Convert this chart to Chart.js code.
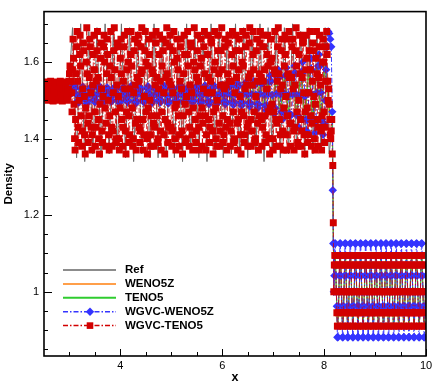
<!DOCTYPE html>
<html>
<head>
<meta charset="utf-8">
<script src="https://cdn.jsdelivr.net/npm/chart.js@4.4.1/dist/chart.umd.min.js"></script>
<style>
  html, body { margin: 0; padding: 0; background: #fff; }
  #wrap { width: 436px; height: 388px; }
</style>
</head>
<body>
<div id="wrap"><canvas id="grafico" width="436" height="388"></canvas></div>
<script>
// ---------- Dados ----------
const X_MIN = 2.5, X_MAX = 10;
const Y_MIN = 0.832, Y_MAX = 1.732;
const xTicks = [4, 6, 8, 10];
const yTicks = [1, 1.2, 1.4, 1.6];

// Ref: extremos da onda, passo 0.08 a partir de x=2.5
const refStub = [1.515,1.52,1.512,1.518,1.522,1.514,1.52];
const refWave = [
  1.69,1.35, 1.70,1.34, 1.68,1.36, 1.69,1.35, 1.70,1.36, 1.68,1.37, 1.70,1.35, 1.69,1.34, 1.68,1.36, 1.69,1.35,
  1.70,1.35, 1.68,1.36, 1.69,1.35, 1.68,1.34, 1.70,1.37, 1.69,1.35, 1.68,1.34, 1.70,1.36, 1.69,1.35, 1.68,1.36,
  1.70,1.36, 1.69,1.35, 1.68,1.36, 1.70,1.34, 1.69,1.36, 1.68,1.35, 1.69,1.36, 1.70,1.37, 1.68,1.35, 1.69,1.36,
  1.68,1.37, 1.69,1.36
];
// Ref depois do choque, passo 0.025 a partir de x=8.165
const refPre = [1.45,
  1.0,1.1,1.0,0.9, 1.0,1.1,1.0,0.9, 1.0,1.1,1.0,0.9, 1.0,1.1,1.0,0.9, 1.0,1.1,1.0,0.9, 1.0,1.1,1.0,0.9,
  1.0,1.1,1.0,0.9, 1.0,1.1,1.0,0.9, 1.0,1.1,1.0,0.9, 1.0,1.1,1.0,0.9, 1.0,1.1,1.0,0.9, 1.0,1.1,1.0,0.9,
  1.0,1.1,1.0,0.9, 1.0,1.1,1.0,0.9, 1.0,1.1,1.0,0.9, 1.0,1.1,1.0,0.9, 1.0,1.1,1.0,0.9, 1.0,1.1,1.0,0.9,
  1.0];

// WENO5Z / TENO5: passo 0.08 antes do choque, 0.02 depois (x=8.16)
const wenoLeft = [1.515,1.514,1.516,1.515,1.513,1.517,1.52,
  1.53,1.50, 1.528,1.502, 1.531,1.499, 1.529,1.501, 1.53,1.50, 1.527,1.503, 1.532,1.498, 1.529,1.501,
  1.53,1.50, 1.528,1.502, 1.531,1.499, 1.53,1.50, 1.529,1.501, 1.531,1.499, 1.53,1.50, 1.528,1.502,
  1.532,1.498, 1.53,1.50, 1.529,1.501, 1.531,1.499, 1.53,1.50, 1.533,1.497,
  1.54,1.49, 1.545,1.485, 1.55,1.48, 1.555,1.475, 1.56,1.47, 1.565,1.465, 1.57,1.46, 1.575,1.455, 1.58,1.45, 1.585,1.46];
const wenoPre = [1.45,1.12,
  1.06,1.09,1.0,0.91,0.94, 1.06,1.09,1.0,0.91,0.94, 1.06,1.09,1.0,0.91,0.94, 1.06,1.09,1.0,0.91,0.94,
  1.06,1.09,1.0,0.91,0.94, 1.06,1.09,1.0,0.91,0.94, 1.06,1.09,1.0,0.91,0.94, 1.06,1.09,1.0,0.91,0.94,
  1.06,1.09,1.0,0.91,0.94, 1.06,1.09,1.0,0.91,0.94, 1.06,1.09,1.0,0.91,0.94, 1.06,1.09,1.0,0.91,0.94,
  1.06,1.09,1.0,0.91,0.94, 1.06,1.09,1.0,0.91,0.94, 1.06,1.09,1.0,0.91,0.94, 1.06,1.09,1.0,0.91,0.94,
  1.06,1.09,1.0,0.91,0.94, 1.06,1.09,1.0,0.91,0.94, 1.06];
const tenoLeft = [1.516,1.515,1.514,1.517,1.515,1.513,1.522,
  1.532,1.498, 1.529,1.501, 1.53,1.50, 1.531,1.499, 1.528,1.502, 1.53,1.50, 1.529,1.501, 1.532,1.498,
  1.53,1.50, 1.527,1.503, 1.531,1.499, 1.53,1.50, 1.528,1.502, 1.532,1.498, 1.529,1.501, 1.53,1.50,
  1.531,1.499, 1.53,1.50, 1.528,1.502, 1.532,1.498, 1.53,1.50, 1.534,1.496,
  1.542,1.488, 1.548,1.482, 1.552,1.478, 1.558,1.472, 1.562,1.468, 1.568,1.462, 1.572,1.458, 1.578,1.452, 1.59,1.46, 1.6,1.48];
const tenoPre = [1.45,1.12,
  1.06,1.095,1.0,0.905,0.94, 1.06,1.095,1.0,0.905,0.94, 1.06,1.095,1.0,0.905,0.94, 1.06,1.095,1.0,0.905,0.94,
  1.06,1.095,1.0,0.905,0.94, 1.06,1.095,1.0,0.905,0.94, 1.06,1.095,1.0,0.905,0.94, 1.06,1.095,1.0,0.905,0.94,
  1.06,1.095,1.0,0.905,0.94, 1.06,1.095,1.0,0.905,0.94, 1.06,1.095,1.0,0.905,0.94, 1.06,1.095,1.0,0.905,0.94,
  1.06,1.095,1.0,0.905,0.94, 1.06,1.095,1.0,0.905,0.94, 1.06,1.095,1.0,0.905,0.94, 1.06,1.095,1.0,0.905,0.94,
  1.06,1.095,1.0,0.905,0.94, 1.06,1.095,1.0,0.905,0.94, 1.06];

// WGVC-WENO5Z: passo 0.02 a partir de x=2.5, depois 0.01 a partir de x=8.16
const wgvcWenoStub = [1.515,1.512,1.518,1.514,1.510,1.516,1.519,1.513,1.511,1.517,1.52,1.514,1.51,1.515,
  1.519,1.513,1.511,1.516,1.52,1.515,1.511,1.514,1.519,1.516,1.512,1.515,1.525,1.535];
const wgvcWenoWave = [
  1.52,1.535,1.54,1.532,1.515,1.50,1.494,1.50,
  1.514,1.53,1.536,1.53,1.516,1.50,1.492,1.498,
  1.513,1.528,1.535,1.53,1.517,1.502,1.495,1.50,
  1.515,1.532,1.538,1.531,1.514,1.498,1.493,1.499,
  1.516,1.53,1.534,1.528,1.515,1.501,1.496,1.50,
  1.514,1.529,1.537,1.532,1.516,1.50,1.493,1.498,
  1.512,1.528,1.535,1.53,1.518,1.503,1.495,1.499,
  1.515,1.531,1.539,1.533,1.515,1.498,1.492,1.498,
  1.516,1.53,1.535,1.529,1.514,1.50,1.495,1.501,
  1.515,1.532,1.537,1.531,1.516,1.499,1.493,1.499,
  1.513,1.529,1.536,1.532,1.517,1.501,1.494,1.50,
  1.516,1.531,1.538,1.53,1.514,1.498,1.492,1.497,
  1.514,1.53,1.535,1.531,1.516,1.50,1.495,1.50,
  1.515,1.533,1.54,1.532,1.515,1.497,1.491,1.498,
  1.516,1.53,1.536,1.53,1.515,1.50,1.494,1.50,
  1.514,1.531,1.538,1.533,1.517,1.499,1.492,1.498,
  1.515,1.532,1.539,1.531,1.514,1.497,1.49,1.497,
  1.516,1.534,1.541,1.534,1.516,1.498,1.491,1.498,
  1.515,1.533,1.54,1.533,1.515,1.497,1.49,1.496,
  1.516,1.535,1.543,1.536,1.516,1.496,1.488,1.495,
  1.515,1.536,1.545,1.537,1.515,1.494,1.486,1.494,
  1.516,1.538,1.547,1.538,1.515,1.493,1.484,1.493,
  1.516,1.54,1.55,1.54,1.515,1.49,1.48,1.49,
  1.517,1.545,1.556,1.544,1.514,1.486,1.474,1.486,
  1.516,1.55,1.565,1.55,1.514,1.48,1.465,1.48,
  1.517,1.56,1.58,1.56,1.515,1.47,1.45,1.47,
  1.518,1.565,1.585,1.565,1.514,1.465,1.44,1.462,
  1.515,1.57,1.59,1.57,1.515,1.46,1.43,1.455,
  1.515,1.575,1.6,1.575,1.51,1.45,1.42,1.45,
  1.52,1.58,1.61,1.58,1.515,1.45,1.415,1.445,
  1.52,1.59,1.62,1.59,1.52,1.45,1.41,1.44,
  1.50,1.58,1.64,1.68,1.675,1.66,1.64
];
const wgvcWenoPre = [1.47,1.265,1.126,
  1.0,1.042,1.126,1.126,1.042,1.0,0.962,0.881,0.881,0.962,
  1.0,1.042,1.126,1.126,1.042,1.0,0.962,0.881,0.881,0.962,
  1.0,1.042,1.126,1.126,1.042,1.0,0.962,0.881,0.881,0.962,
  1.0,1.042,1.126,1.126,1.042,1.0,0.962,0.881,0.881,0.962,
  1.0,1.042,1.126,1.126,1.042,1.0,0.962,0.881,0.881,0.962,
  1.0,1.042,1.126,1.126,1.042,1.0,0.962,0.881,0.881,0.962,
  1.0,1.042,1.126,1.126,1.042,1.0,0.962,0.881,0.881,0.962,
  1.0,1.042,1.126,1.126,1.042,1.0,0.962,0.881,0.881,0.962,
  1.0,1.042,1.126,1.126,1.042,1.0,0.962,0.881,0.881,0.962,
  1.0,1.042,1.126,1.126,1.042,1.0,0.962,0.881,0.881,0.962,
  1.0,1.042,1.126,1.126,1.042,1.0,0.962,0.881,0.881,0.962,
  1.0,1.042,1.126,1.126,1.042,1.0,0.962,0.881,0.881,0.962,
  1.0,1.042,1.126,1.126,1.042,1.0,0.962,0.881,0.881,0.962,
  1.0,1.042,1.126,1.126,1.042,1.0,0.962,0.881,0.881,0.962,
  1.0,1.042,1.126,1.126,1.042,1.0,0.962,0.881,0.881,0.962,
  1.0,1.042,1.126,1.126,1.042,1.0,0.962,0.881,0.881,0.962,
  1.0,1.042,1.126,1.126,1.042,1.0,0.962,0.881,0.881,0.962,
  1.0,1.042,1.126,1.126,1.042,1.0,0.962,0.881,0.881,0.962,
  1.0,1.042];

// WGVC-TENO5: passo 0.01 a partir de x=2.5, depois a partir de x=8.16
const wgvcTenoStub = [
  1.52,1.53,1.54,1.548,1.54,1.53,1.515,1.505,1.50,1.505,1.515,1.53,1.54,1.55,
  1.54,1.525,1.51,1.50,1.498,1.51,1.525,1.54,1.548,1.54,1.53,1.515,1.505,1.50,
  1.505,1.52,1.535,1.545,1.55,1.535,1.52,1.505,1.498,1.505,1.515,1.53,1.54,1.548,
  1.54,1.53,1.515,1.505,1.50,1.51,1.53,1.55,1.57,1.59,1.58,1.55,1.52];
const wgvcTenoWave = [
  1.47,1.58,1.66,1.61,1.49,1.40,1.37,1.45,1.57,1.64,1.68,1.55,1.43,1.39,1.50,1.62,
  1.67,1.59,1.46,1.38,1.42,1.53,1.65,1.63,1.51,1.41,1.36,1.48,1.60,1.69,1.57,1.44,
  1.39,1.46,1.56,1.66,1.64,1.52,1.43,1.37,1.41,1.54,1.62,1.67,1.58,1.47,1.38,1.43,
  1.55,1.63,1.68,1.56,1.45,1.40,1.36,1.49,1.61,1.65,1.53,1.42,1.39,1.51,1.64,1.67,
  1.60,1.48,1.38,1.44,1.57,1.66,1.62,1.50,1.41,1.37,1.46,1.59,1.68,1.56,1.43,1.38,
  1.42,1.52,1.63,1.69,1.58,1.47,1.39,1.40,1.54,1.65,1.64,1.51,1.40,1.37,1.48,1.61,
  1.66,1.57,1.45,1.38,1.43,1.55,1.64,1.67,1.53,1.42,1.36,1.47,1.58,1.68,1.60,1.46,
  1.39,1.41,1.53,1.62,1.68,1.59,1.48,1.38,1.40,1.52,1.63,1.66,1.54,1.44,1.37,1.45,
  1.56,1.65,1.67,1.55,1.43,1.39,1.42,1.57,1.64,1.69,1.58,1.45,1.37,1.41,1.51,1.63,
  1.68,1.60,1.47,1.40,1.36,1.48,1.59,1.66,1.62,1.50,1.41,1.38,1.46,1.58,1.67,1.57,
  1.44,1.38,1.43,1.54,1.65,1.68,1.56,1.46,1.39,1.40,1.53,1.62,1.67,1.55,1.42,1.37,
  1.47,1.59,1.66,1.63,1.52,1.41,1.36,1.45,1.56,1.65,1.69,1.57,1.44,1.39,1.43,1.55,
  1.64,1.67,1.54,1.43,1.38,1.42,1.52,1.63,1.68,1.60,1.48,1.40,1.37,1.49,1.61,1.66,
  1.58,1.46,1.38,1.41,1.55,1.64,1.66,1.53,1.42,1.36,1.46,1.57,1.67,1.62,1.49,1.39,
  1.40,1.51,1.62,1.68,1.59,1.47,1.38,1.43,1.54,1.65,1.64,1.52,1.41,1.37,1.48,1.60,
  1.69,1.58,1.45,1.39,1.42,1.56,1.63,1.67,1.55,1.43,1.37,1.46,1.59,1.66,1.61,1.48,
  1.38,1.44,1.53,1.64,1.68,1.57,1.46,1.37,1.41,1.52,1.62,1.67,1.56,1.45,1.39,1.43,
  1.55,1.66,1.65,1.52,1.42,1.36,1.47,1.58,1.68,1.60,1.48,1.40,1.38,1.50,1.63,1.67,
  1.57,1.44,1.38,1.42,1.54,1.63,1.69,1.58,1.46,1.39,1.41,1.53,1.64,1.66,1.54,1.43,
  1.37,1.45,1.57,1.65,1.67,1.55,1.44,1.38,1.42,1.55,1.62,1.68,1.59,1.47,1.39,1.40,
  1.52,1.63,1.67,1.56,1.44,1.37,1.45,1.58,1.66,1.63,1.51,1.41,1.36,1.47,1.60,1.68,
  1.59,1.46,1.39,1.41,1.53,1.64,1.67,1.54,1.43,1.38,1.44,1.56,1.65,1.69,1.57,1.45,
  1.38,1.42,1.54,1.62,1.68,1.58,1.47,1.39,1.40,1.51,1.63,1.66,1.55,1.44,1.37,1.46,
  1.57,1.65,1.68,1.56,1.45,1.38,1.43,1.55,1.64,1.67,1.58,1.46,1.39,1.41,1.53,1.62,
  1.67,1.59,1.47,1.40,1.36,1.48,1.60,1.66,1.61,1.49,1.40,1.37,1.47,1.58,1.68,1.57,
  1.45,1.38,1.44,1.55,1.64,1.69,1.57,1.45,1.38,1.41,1.53,1.63,1.66,1.54,1.42,1.37,
  1.48,1.59,1.67,1.62,1.51,1.41,1.37,1.46,1.57,1.66,1.68,1.56,1.44,1.38,1.44,1.56,
  1.64,1.66,1.53,1.42,1.37,1.43,1.54,1.63,1.69,1.59,1.47,1.39,1.38,1.50,1.62,1.67,
  1.57,1.45,1.38,1.42,1.56,1.65,1.66,1.52,1.41,1.36,1.47,1.58,1.67,1.61,1.48,1.39,
  1.41,1.52,1.63,1.68,1.58,1.46,1.38,1.44,1.55,1.65,1.63,1.51,1.40,1.37,1.49,1.61,
  1.68,1.57,1.45,1.38,1.43,1.56,1.64,1.67,1.54,1.42,1.37,1.46,1.60,1.66,1.60,1.47,
  1.39,1.43,1.55,1.64,1.68,1.62,1.55,1.50,1.53,1.49,1.45,1.41,1.40,1.42,1.45
];
const wgvcTenoPre = [1.36,1.33,1.18,
  1.0,1.07,1.095,1.095,1.07,1.0,0.945,0.91,0.91,0.945,
  1.0,1.07,1.095,1.095,1.07,1.0,0.945,0.91,0.91,0.945,
  1.0,1.07,1.095,1.095,1.07,1.0,0.945,0.91,0.91,0.945,
  1.0,1.07,1.095,1.095,1.07,1.0,0.945,0.91,0.91,0.945,
  1.0,1.07,1.095,1.095,1.07,1.0,0.945,0.91,0.91,0.945,
  1.0,1.07,1.095,1.095,1.07,1.0,0.945,0.91,0.91,0.945,
  1.0,1.07,1.095,1.095,1.07,1.0,0.945,0.91,0.91,0.945,
  1.0,1.07,1.095,1.095,1.07,1.0,0.945,0.91,0.91,0.945,
  1.0,1.07,1.095,1.095,1.07,1.0,0.945,0.91,0.91,0.945,
  1.0,1.07,1.095,1.095,1.07,1.0,0.945,0.91,0.91,0.945,
  1.0,1.07,1.095,1.095,1.07,1.0,0.945,0.91,0.91,0.945,
  1.0,1.07,1.095,1.095,1.07,1.0,0.945,0.91,0.91,0.945,
  1.0,1.07,1.095,1.095,1.07,1.0,0.945,0.91,0.91,0.945,
  1.0,1.07,1.095,1.095,1.07,1.0,0.945,0.91,0.91,0.945,
  1.0,1.07,1.095,1.095,1.07,1.0,0.945,0.91,0.91,0.945,
  1.0,1.07,1.095,1.095,1.07,1.0,0.945,0.91,0.91,0.945,
  1.0,1.07,1.095,1.095,1.07,1.0,0.945,0.91,0.91,0.945,
  1.0,1.07,1.095,1.095,1.07,1.0,0.945,0.91,0.91,0.945,
  1.0,1.07];

// ---------- Utilidades ----------
const FONT = "'Liberation Sans', Arial, Helvetica, sans-serif";
const seg = (x0, dx, ys) => ys.map((y, i) => ({ x: +(x0 + i * dx).toFixed(4), y }));

const DASH_DOT = [5, 2, 1.5, 2];

const datasets = [
  { label: 'Ref', data: [...seg(2.5, 0.08, refStub.concat(refWave)), ...seg(8.165, 0.025, refPre)],
    borderColor: '#6c6c6c', borderWidth: 1, pointRadius: 0, order: 5, legendColor: '#8c8c8c' },
  { label: 'WENO5Z', data: [...seg(2.5, 0.08, wenoLeft), ...seg(8.16, 0.02, wenoPre)],
    borderColor: '#ff9f4a', borderWidth: 1, pointRadius: 0, order: 4 },
  { label: 'TENO5', data: [...seg(2.5, 0.08, tenoLeft), ...seg(8.16, 0.02, tenoPre)],
    borderColor: '#2fcc2f', borderWidth: 1, pointRadius: 0, order: 3 },
  { label: 'WGVC-WENO5Z', data: [...seg(2.5, 0.02, wgvcWenoStub.concat(wgvcWenoWave)), ...seg(8.16, 0.01, wgvcWenoPre)],
    borderColor: '#3434ff', borderWidth: 1, borderDash: DASH_DOT,
    pointStyle: 'rectRot', pointRadius: 4.2, pointBorderWidth: 0, pointBackgroundColor: '#3434ff', order: 2 },
  { label: 'WGVC-TENO5', data: [...seg(2.5, 0.01, wgvcTenoStub.concat(wgvcTenoWave)), ...seg(8.16, 0.01, wgvcTenoPre)],
    borderColor: '#d20000', borderWidth: 0.8, borderDash: DASH_DOT,
    pointStyle: 'rect', pointRadius: 4.9, pointBorderWidth: 0, pointBackgroundColor: '#d20000', order: 1 },
];

// ---------- Moldura, ticks internos e legenda ----------
const tecplotFrame = {
  id: 'tecplotFrame',
  afterDraw(chart){
    const { ctx, chartArea: a, scales: { x, y } } = chart;
    ctx.save();
    ctx.strokeStyle = '#000';
    ctx.lineWidth = 1;
    ctx.beginPath();
    // ticks do eixo x (maiores a cada 2, menores a cada 0.5)
    for(let k = 6; k <= 20; k++){
      const v = k * 0.5;
      const px = Math.round(x.getPixelForValue(v)) + 0.5;
      const len = xTicks.includes(v) ? 7 : 4;
      ctx.moveTo(px, a.bottom); ctx.lineTo(px, a.bottom - len);
    }
    // ticks do eixo y (maiores a cada 0.2, menores a cada 0.05)
    for(let k = 17; k <= 34; k++){
      const v = +(k * 0.05).toFixed(2);
      const py = Math.round(y.getPixelForValue(v)) + 0.5;
      const len = yTicks.includes(v) ? 8 : 4;
      ctx.moveTo(a.left, py); ctx.lineTo(a.left + len, py);
    }
    ctx.stroke();
    ctx.lineWidth = 1.6;
    ctx.strokeRect(a.left, a.top, a.right - a.left, a.bottom - a.top);

    // legenda
    const lx0 = 63, lx1 = 116, tx = 125, ly0 = 270, dy = 13.9;
    ctx.font = `bold 11.5px ${FONT}`;
    ctx.textBaseline = 'middle';
    chart.data.datasets.forEach((ds, i) => {
      const ly = ly0 + i * dy;
      ctx.strokeStyle = ds.legendColor || ds.borderColor;
      ctx.lineWidth = ds.borderDash ? 1.5 : 2;
      ctx.setLineDash(ds.borderDash || []);
      ctx.beginPath(); ctx.moveTo(lx0, ly); ctx.lineTo(lx1, ly); ctx.stroke();
      ctx.setLineDash([]);
      const mx = (lx0 + lx1) / 2 + 0.5;
      ctx.fillStyle = ds.pointBackgroundColor;
      if(ds.pointStyle === 'rect'){
        ctx.fillRect(mx - 3.3, ly - 3.3, 6.6, 6.6);
      } else if(ds.pointStyle === 'rectRot'){
        ctx.beginPath();
        ctx.moveTo(mx - 4.2, ly); ctx.lineTo(mx, ly - 4.2); ctx.lineTo(mx + 4.2, ly); ctx.lineTo(mx, ly + 4.2);
        ctx.closePath(); ctx.fill();
      }
      ctx.fillStyle = '#000';
      ctx.fillText(ds.label, tx, ly);
    });
    ctx.restore();
  }
};

new Chart(document.getElementById('grafico'), {
  type: 'line',
  data: { datasets },
  options: {
    responsive: false,
    animation: false,
    devicePixelRatio: 1,
    events: [],
    layout: { padding: { left: 0, right: 10, top: 8, bottom: 0 } },
    elements: { line: { tension: 0 } },
    plugins: { legend: { display: false }, tooltip: { enabled: false } },
    scales: {
      x: {
        type: 'linear', min: X_MIN, max: X_MAX,
        afterBuildTicks: (s) => { s.ticks = xTicks.map(v => ({ value: v })); },
        afterFit: (s) => { s.height = 32; },
        grid: { display: false, drawTicks: false },
        border: { display: false },
        ticks: { color: '#000', padding: 3, maxRotation: 0, autoSkip: false,
                 font: { family: FONT, size: 11 }, callback: (v) => String(v) },
        title: { display: true, text: 'x', color: '#000',
                 font: { family: FONT, size: 12.5, weight: 'bold' }, padding: { top: 0, bottom: 3 } }
      },
      y: {
        type: 'linear', min: Y_MIN, max: Y_MAX,
        afterBuildTicks: (s) => { s.ticks = yTicks.map(v => ({ value: v })); },
        afterFit: (s) => { s.width = 44; },
        grid: { display: false, drawTicks: false },
        border: { display: false },
        ticks: { color: '#000', padding: 5, autoSkip: false,
                 font: { family: FONT, size: 11 }, callback: (v) => String(+v.toFixed(2)) },
        title: { display: true, text: 'Density', color: '#000',
                 font: { family: FONT, size: 11.5, weight: 'bold' }, padding: { top: 1.5, bottom: 0 } }
      }
    }
  },
  plugins: [tecplotFrame]
});
</script>
</body>
</html>
